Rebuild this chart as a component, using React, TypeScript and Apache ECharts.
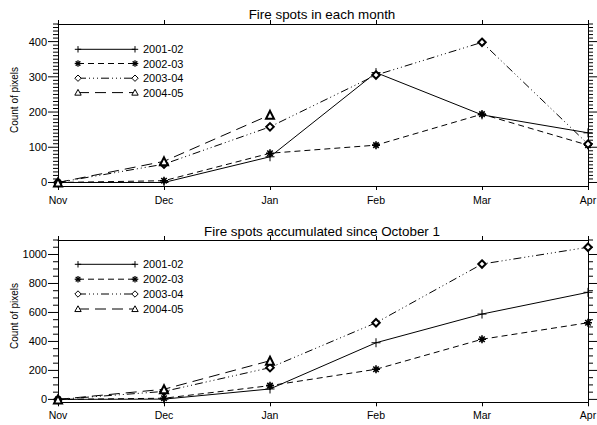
import React, { useEffect, useRef } from "react";
import * as echarts from "echarts";

const months = ["Nov", "Dec", "Jan", "Feb", "Mar", "Apr"];
const seasons = ["2001-02", "2002-03", "2003-04", "2004-05"];

const monthly0102 = [0, 0, 73, 312, 192, 141];
const monthly0203 = [0, 5, 83, 106, 194, 106];
const monthly0304 = [0, 52, 158, 305, 398, 109];
const monthly0405 = [0, 60, 192];

const accum0102 = [0, 2, 72, 391, 589, 739];
const accum0203 = [0, 8, 95, 208, 415, 529];
const accum0304 = [0, 55, 219, 529, 934, 1050];
const accum0405 = [0, 70, 267];

const monthlyTicks = [0, 100, 200, 300, 400];
const accumTicks = [0, 200, 400, 600, 800, 1000];

const titles = ["Fire spots in each month", "Fire spots accumulated since October 1"];
const yName = "Count of pixels";

const FONT = "Liberation Sans, Arial, Helvetica, sans-serif";

const PLUS = "path://M5,0L5,10M0,5L10,5";
const STAR = "path://M5,0L5,10M0,5L10,5M1.6,1.6L8.4,8.4M8.4,1.6L1.6,8.4";

const styles = [
  { dash: "solid" as any, symbol: PLUS, size: 9, bw: 1, marker: "plus" },
  { dash: [6, 4], symbol: STAR, size: 8, bw: 1.6, marker: "star" },
  { dash: [8, 3, 1, 3, 1, 3, 1, 3], symbol: "emptyDiamond", size: 7.5, bw: 1, marker: "diamond" },
  { dash: [11, 6], symbol: "emptyTriangle", size: 8, bw: 1, marker: "triangle" },
];

function range(a: number, b: number, step: number) {
  const out: number[] = [];
  for (let v = a; v <= b + 1e-9; v += step) out.push(v);
  return out;
}

function markerEls(kind: string, cx: number, cy: number, s: number) {
  const st = { stroke: "#000", lineWidth: 1 };
  if (kind === "plus") {
    return [
      { type: "line", shape: { x1: cx - s, y1: cy, x2: cx + s, y2: cy }, style: st },
      { type: "line", shape: { x1: cx, y1: cy - s, x2: cx, y2: cy + s }, style: st },
    ];
  }
  if (kind === "star") {
    const d = s * 0.7;
    const st2 = { stroke: "#000", lineWidth: 1.3 };
    return [
      { type: "line", shape: { x1: cx - s, y1: cy, x2: cx + s, y2: cy }, style: st2 },
      { type: "line", shape: { x1: cx, y1: cy - s, x2: cx, y2: cy + s }, style: st2 },
      { type: "line", shape: { x1: cx - d, y1: cy - d, x2: cx + d, y2: cy + d }, style: st2 },
      { type: "line", shape: { x1: cx + d, y1: cy - d, x2: cx - d, y2: cy + d }, style: st2 },
    ];
  }
  if (kind === "diamond") {
    return [
      {
        type: "polygon",
        shape: { points: [[cx, cy - s], [cx + s, cy], [cx, cy + s], [cx - s, cy]] },
        style: { fill: "#fff", stroke: "#000", lineWidth: 1 },
      },
    ];
  }
  return [
    {
      type: "polygon",
      shape: { points: [[cx, cy - s], [cx + s, cy + s * 0.8], [cx - s, cy + s * 0.8]] },
      style: { fill: "#fff", stroke: "#000", lineWidth: 1 },
    },
  ];
}

function legendEls(rowsY: number[]) {
  const els: any[] = [];
  const x1 = 78, x2 = 135;
  seasons.forEach((name, i) => {
    const st = styles[i];
    const y = rowsY[i];
    els.push({
      type: "line",
      shape: { x1, y1: y, x2, y2: y },
      style: { stroke: "#000", lineWidth: 1, lineDash: st.dash === "solid" ? null : st.dash },
      z: 50,
    });
    const ms = st.marker === "star" ? 3.3 : 3.2;
    markerEls(st.marker, x1, y, ms).forEach((e: any) => els.push({ ...e, z: 51 }));
    markerEls(st.marker, x2, y, ms).forEach((e: any) => els.push({ ...e, z: 51 }));
    els.push({
      type: "text",
      x: 143,
      y,
      style: { text: name, font: `11px ${FONT}`, fill: "#000", verticalAlign: "middle", align: "left" },
      z: 52,
    });
  });
  return els;
}

export default function App() {
  const ref = useRef<HTMLDivElement>(null);
  useEffect(() => {
    if (!ref.current) return;
    const chart = echarts.init(ref.current, null, { renderer: "svg" });

    const grids = [
      { left: 58, width: 530, top: 24, height: 162, min: -10, max: 450, majors: monthlyTicks, minors: range(0, 450, 10), labelMargin: 8 },
      { left: 58, width: 530, top: 240, height: 162.3, min: -20, max: 1100, majors: accumTicks, minors: range(0, 1100, 50), labelMargin: 7 },
    ];

    const axisLine = { show: true, onZero: false, lineStyle: { color: "#000", width: 1 } };

    const xAxis: any[] = [];
    const yAxis: any[] = [];
    grids.forEach((g, gi) => {
      xAxis.push({
        type: "category", gridIndex: gi, data: months, boundaryGap: false, position: "bottom",
        axisLine, axisTick: { show: true, inside: false, length: 4, lineStyle: { color: "#000" } },
        axisLabel: { color: "#000", fontSize: 10.5, fontFamily: FONT, margin: g.labelMargin, showMaxLabel: true, showMinLabel: true, interval: 0 },
        splitLine: { show: false },
      });
      xAxis.push({
        type: "category", gridIndex: gi, data: months, boundaryGap: false, position: "top",
        axisLine, axisTick: { show: true, inside: false, length: 4, lineStyle: { color: "#000" } },
        axisLabel: { show: false }, splitLine: { show: false },
      });
      yAxis.push({
        type: "value", gridIndex: gi, position: "left", min: g.min, max: g.max,
        axisLine,
        axisTick: { show: false },
        axisLabel: {
          show: true, customValues: g.majors, color: "#000", fontSize: 11, fontFamily: FONT, margin: 11,
          formatter: (v: number) => String(v),
        },
        splitLine: { show: false },
      });
      yAxis.push({
        type: "value", gridIndex: gi, position: "right", min: g.min, max: g.max,
        axisLine, axisTick: { show: false }, axisLabel: { show: false }, splitLine: { show: false },
      });
    });

    const monthlyData = [monthly0102, monthly0203, monthly0304, monthly0405];
    const accumData = [accum0102, accum0203, accum0304, accum0405];
    const series: any[] = [];

    // y-axis ticks on both sides, positioned through the axis scale
    grids.forEach((g, gi) => {
      const tickData = [
        ...g.minors.filter((v) => g.majors.indexOf(v) < 0).map((v) => [0, v, 5]),
        ...g.majors.map((v) => [0, v, 10]),
      ];
      series.push({
        type: "custom",
        xAxisIndex: gi * 2,
        yAxisIndex: gi * 2,
        silent: true,
        clip: false,
        z: 5,
        data: tickData,
        renderItem: (params: any, api: any) => {
          const v = api.value(1);
          const len = api.value(2);
          const pl = api.coord([0, v]);
          const pr = api.coord([months.length - 1, v]);
          const st = { stroke: "#000", lineWidth: 1 };
          return {
            type: "group",
            children: [
              { type: "line", shape: { x1: pl[0] - len, y1: pl[1], x2: pl[0], y2: pl[1] }, style: st },
              { type: "line", shape: { x1: pr[0], y1: pr[1], x2: pr[0] + len, y2: pr[1] }, style: st },
            ],
          };
        },
      });
    });

    [monthlyData, accumData].forEach((set, gi) => {
      set.forEach((vals, i) => {
        const st = styles[i];
        series.push({
          type: "line",
          name: seasons[i] + "_" + gi,
          xAxisIndex: gi * 2,
          yAxisIndex: gi * 2,
          data: vals,
          symbol: st.symbol,
          symbolSize: st.size,
          showSymbol: true,
          showAllSymbol: true,
          clip: false,
          lineStyle: { color: "#000", width: 1, type: st.dash },
          itemStyle: { color: "#000", borderColor: "#000", borderWidth: st.bw },
          z: 10 + i,
        });
      });
    });

    const graphic: any[] = [
      { type: "text", x: 322, y: 14, style: { text: titles[0], font: `13.4px ${FONT}`, fill: "#000", align: "center", verticalAlign: "middle" } },
      { type: "text", x: 322, y: 231, style: { text: titles[1], font: `13.4px ${FONT}`, fill: "#000", align: "center", verticalAlign: "middle" } },
      { type: "text", x: 14, y: 100, rotation: Math.PI / 2, style: { text: yName, font: `10px ${FONT}`, fill: "#000", align: "center", verticalAlign: "middle" } },
      { type: "text", x: 14, y: 316, rotation: Math.PI / 2, style: { text: yName, font: `10px ${FONT}`, fill: "#000", align: "center", verticalAlign: "middle" } },
      ...legendEls([49.3, 63.5, 78.2, 92.6]),
      ...legendEls([264.3, 279.2, 294, 309]),
    ];

    chart.setOption({
      animation: false,
      backgroundColor: "#fff",
      textStyle: { fontFamily: FONT },
      grid: grids.map((g) => ({ left: g.left, width: g.width, top: g.top, height: g.height, containLabel: false, outerBoundsMode: "none" })),
      xAxis,
      yAxis,
      series,
      graphic,
    });
    return () => chart.dispose();
  }, []);
  return (
    <div
      ref={ref}
      style={{ position: "fixed", left: 0, top: 0, width: 597, height: 425, background: "#fff" }}
    />
  );
}
